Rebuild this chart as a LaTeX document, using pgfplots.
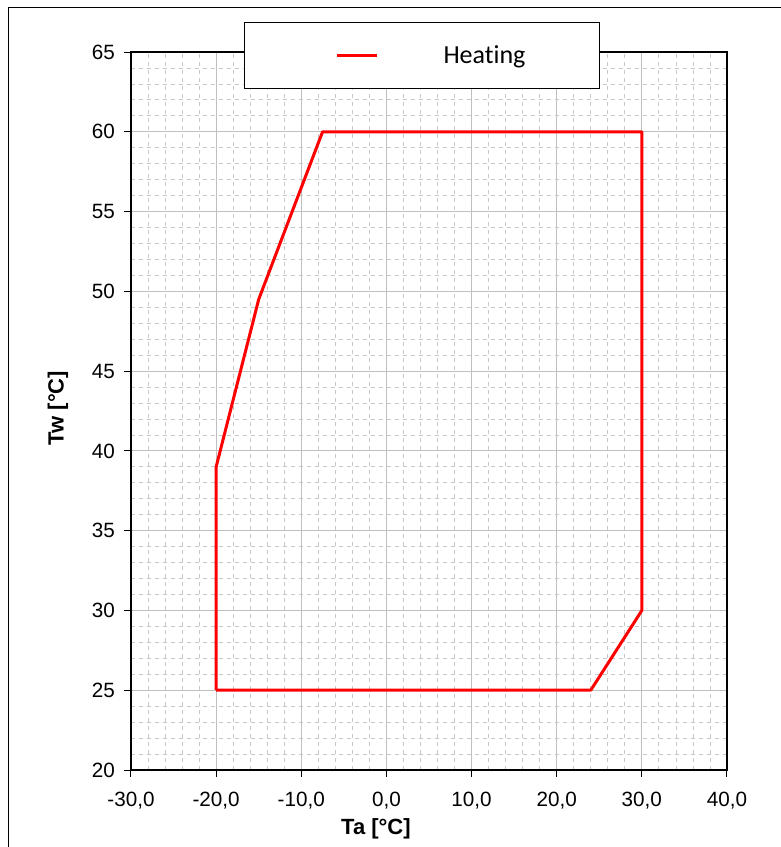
\documentclass[border=0pt]{standalone}
\usepackage{pgfplots}
\pgfplotsset{compat=1.18}
\usepackage{fontspec}
\setmainfont{Liberation Sans}
\newfontfamily\carlito[RawFeature={-liga}]{Carlito}
\begin{document}
\begin{tikzpicture}
\useasboundingbox (0pt,0pt) rectangle (585.75pt,-635.25pt);
\draw[black, line width=0.75pt] (6pt,-5.25pt) rectangle (620pt,-660pt);
\begin{axis}[
  at={(98.25pt,-39pt)}, anchor=north west,
  width=447pt, height=538.5pt, scale only axis,
  xmin=-30, xmax=40, ymin=20, ymax=65,
  xtick={-30,-20,...,40},
  xticklabels={{-30,0},{-20,0},{-10,0},{0,0},{10,0},{20,0},{30,0},{40,0}},
  ytick={20,25,...,65},
  minor x tick num=4, minor y tick num=4,
  grid=both,
  major grid style={solid, color=black!25, line width=0.75pt},
  minor grid style={dashed, color=black!22, line width=0.6pt},
  axis line style={black, line width=1.5pt},
  tick style={black, line width=0.75pt},
  major tick length=5pt, minor tick length=0pt, tick align=outside,
  xtick pos=bottom, ytick pos=left,
  /pgf/number format/assume math mode=true,
  tick label style={font=\fontsize{15.5}{18}\selectfont},
  xticklabel style={yshift=-8pt},
  yticklabel style={xshift=-3.5pt},
  xlabel={Ta [°C]}, ylabel={Tw [°C]},
  label style={font=\bfseries\fontsize{16.5}{20}\selectfont},
  xlabel style={at={(axis description cs:0.411,-0.082)}, anchor=center},
  ylabel style={at={(axis description cs:-0.1225,0.504)}, anchor=center},
  legend style={at={(axis description cs:0.1896,1.0418)}, anchor=north west,
    draw=black, line width=0.75pt, fill=white, inner sep=0pt,
    nodes={inner sep=0pt, font=\carlito\fontsize{19.5}{23}\selectfont, text width=117pt, align=left}},
  legend image code/.code={%
    \path (0pt,-23.6pt) (147pt,23.6pt);
    \draw (68pt,0pt) -- (98pt,0pt);},
]
\addplot[red, line width=2.25pt, line join=round] coordinates {
  (-20,25) (24,25) (30,30) (30,60) (-7.5,60) (-15,49.5) (-20,39) (-20,25)
};
\addlegendentry{Heating}
\end{axis}
\end{tikzpicture}
\end{document}
